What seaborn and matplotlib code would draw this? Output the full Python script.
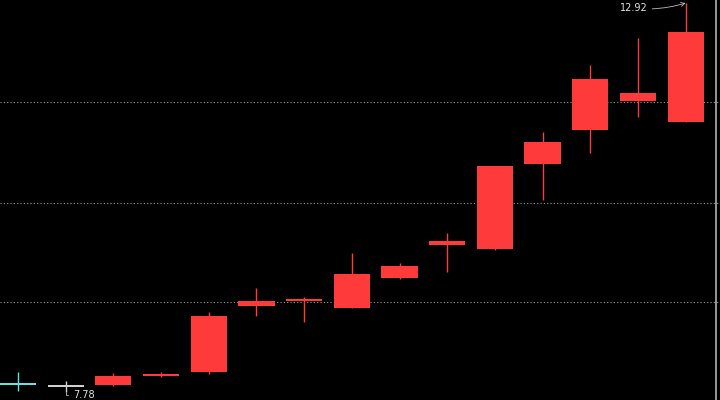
import numpy as np
import pandas as pd
import matplotlib
matplotlib.use('Agg')
import matplotlib.pyplot as plt
import seaborn as sns

# ── candle data ──
opens  = [7.90, 7.86, 7.87, 7.99, 8.05, 8.92, 8.98, 8.89, 9.29, 9.72, 9.67, 10.79, 11.24, 11.63, 11.35]
closes = [7.89, 7.86, 7.99, 8.02, 8.79, 8.98, 9.01, 9.34, 9.45, 9.78, 10.77, 11.08, 11.92, 11.73, 12.54]
highs  = [8.05, 7.93, 8.03, 8.05, 8.84, 9.16, 9.04, 9.62, 9.49, 9.88, 10.77, 11.22, 12.10, 12.46, 12.92]
lows   = [7.79, 7.78, 7.86, 7.98, 8.02, 8.79, 8.71, 8.89, 9.27, 9.37, 9.66, 10.32, 10.94, 11.41, 11.35]
grid_levels = [8.97, 10.28, 11.61]

df = pd.DataFrame({'open': opens, 'close': closes, 'high': highs, 'low': lows})
df['idx'] = np.arange(len(df))

UP, DOWN, FLAT = '#ff3a3a', '#5fe3e3', '#cfcfcf'
df['color'] = np.where(df.close > df.open, UP, np.where(df.close < df.open, DOWN, FLAT))

sns.set_style('dark', {'axes.facecolor': 'black', 'figure.facecolor': 'black'})

fig = plt.figure(figsize=(7.2, 4.0), dpi=100)
ax = fig.add_axes([0, 0, 1, 1])
ax.set_facecolor('black')

# dotted grid
for g in grid_levels:
    ax.axhline(g, color='#9a9a9a', linestyle=(0, (1, 2)), linewidth=0.8, zorder=1)

# wicks
ax.vlines(df.idx, df.low, df.high, colors=df.color, linewidth=1, zorder=2)

# bodies (flat candles drawn as a thin bar)
body_w = 0.76
min_h = 0.026
diff = (df.close - df.open).abs()
bottom = df[['open', 'close']].min(axis=1) - np.where(diff < min_h, min_h / 2, 0)
ax.bar(df.idx, diff.clip(lower=min_h), bottom=bottom,
       width=body_w, color=df.color, linewidth=0, zorder=3)

# right axis line
ax.axvline(14.63, color='#b0b0b0', linewidth=1.2, zorder=4)

# max / min marks
imax = int(np.argmax(highs))
imin = int(np.argmin(lows))
ax.annotate(f'{highs[imax]:.2f}', xy=(imax, highs[imax]), xytext=(imax - 0.8, highs[imax] - 0.07),
            color='#e0e0e0', fontsize=7, ha='right', va='center',
            arrowprops=dict(arrowstyle='->', color='#bbbbbb', lw=0.6,
                            connectionstyle='arc3,rad=0.1', shrinkA=1, shrinkB=0))
ax.annotate(f'{lows[imin]:.2f}', xy=(imin, lows[imin]), xytext=(imin + 0.15, lows[imin] - 0.04),
            color='#e0e0e0', fontsize=7, ha='left', va='center',
            arrowprops=dict(arrowstyle='-', color='#bbbbbb', lw=0.6,
                            connectionstyle='angle,angleA=0,angleB=90,rad=0', shrinkA=1, shrinkB=0))

ax.set_xlim(-0.377, 14.72)
ax.set_ylim(7.676, 12.96)
ax.set_xticks([])
ax.set_yticks([])
ax.grid(False)
for s in ax.spines.values():
    s.set_visible(False)

fig.savefig('out.png', dpi=100, facecolor='black')
plt.close()
